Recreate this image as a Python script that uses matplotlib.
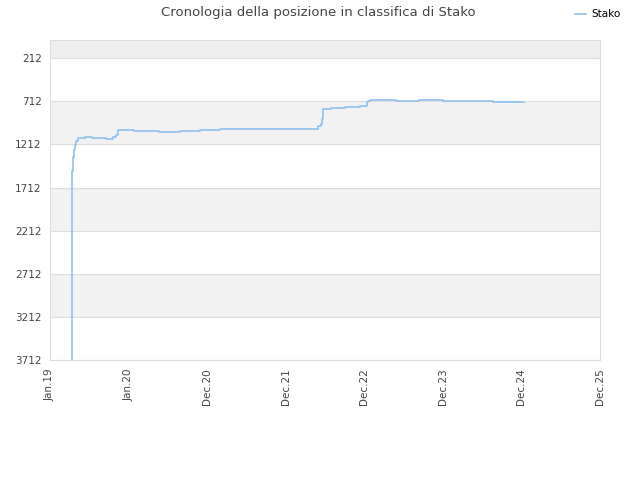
import matplotlib
matplotlib.use('Agg')
import matplotlib.pyplot as plt

# Posizione in classifica nel tempo (mesi da gen. 2019)
mesi = [3.27, 3.27, 3.43, 3.58, 3.73, 3.92, 4.27, 5.28, 6.29, 8.41, 9.55, 9.96,
        10.31, 12.72, 16.45, 19.62, 22.64, 25.65, 40.49, 40.85, 41.09, 41.15,
        42.40, 44.52, 46.78, 47.79, 47.94, 48.29, 52.21, 55.73, 55.94, 59.35,
        66.90, 71.57]
posizione = [3712, 1514, 1356, 1271, 1221, 1171, 1137, 1125, 1137, 1152, 1125, 1100,
             1048, 1056, 1071, 1059, 1048, 1036, 1000, 970, 912, 805,
             793, 778, 766, 720, 705, 697, 709, 700, 692, 709,
             724, 724]

y_ticks = [212, 712, 1212, 1712, 2212, 2712, 3212, 3712]
x_labels = ['Jan.19', 'Jan.20', 'Dec.20', 'Dec.21', 'Dec.22', 'Dec.23', 'Dec.24', 'Dec.25']
x_max = 83

fig = plt.figure(figsize=(6.4, 4.8), dpi=100)
ax = fig.add_axes([50 / 640, 120 / 480, 550 / 640, 320 / 480])

# bande alternate
ax.axhspan(0, 212, color='#eeeeee', zorder=0, lw=0)
for lo in [712, 1712, 2712]:
    ax.axhspan(lo, lo + 500, color='#f2f2f2', zorder=0, lw=0)
for t in y_ticks:
    ax.axhline(t, color='#dddddd', lw=0.8, zorder=1)

ax.plot(mesi, posizione, drawstyle='steps-post', color='#8fc1f0', lw=1.2,
        label='Stako', zorder=3)

ax.set_xlim(0, x_max)
ax.set_ylim(3712, 0)
ax.set_yticks(y_ticks)
ax.set_yticklabels([str(t) for t in y_ticks])
xt = [i * x_max / 7 for i in range(8)]
ax.set_xticks(xt)
ax.set_xticklabels(x_labels, rotation=90)
ax.tick_params(length=0, labelsize=7.5, labelcolor='#444444', pad=6)
for s in ax.spines.values():
    s.set_color('#dddddd')

fig.suptitle('Cronologia della posizione in classifica di Stako', x=318 / 640, y=0.988,
             fontsize=9.5, color='#444444')
fig.legend(loc='upper right', bbox_to_anchor=(0.985, 1.0), frameon=False, fontsize=7.5,
           handlelength=1.0, handletextpad=0.6)

fig.savefig('out.png', dpi=100)
